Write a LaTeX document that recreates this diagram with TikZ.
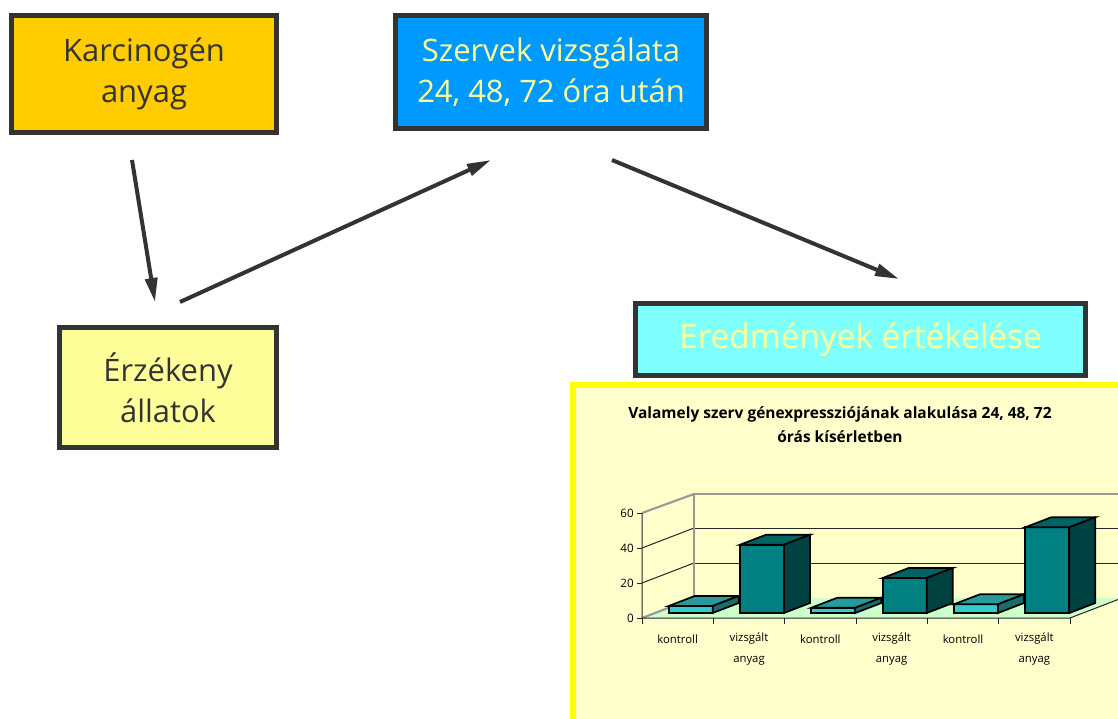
\documentclass[tikz,border=0pt]{standalone}
\usepackage{fontspec}
\setmainfont{Open Sans}
\usetikzlibrary{arrows.meta}
\definecolor{boxline}{HTML}{333333}
\definecolor{karcfill}{HTML}{FFCC00}
\definecolor{szervfill}{HTML}{0099FF}
\definecolor{erzfill}{HTML}{FFFF99}
\definecolor{eredfill}{HTML}{80FFFF}
\definecolor{lighttext}{HTML}{FFFF99}
\definecolor{chartbg}{HTML}{FFFFCC}
\definecolor{chartframe}{HTML}{FFFF00}
\definecolor{floorfill}{HTML}{CCFFCC}
\definecolor{wallgray}{HTML}{999999}
\definecolor{kf}{HTML}{33CCCC}
\definecolor{kt}{HTML}{279B9B}
\definecolor{ks}{HTML}{1B6B6B}
\definecolor{vf}{HTML}{008080}
\definecolor{vt}{HTML}{006363}
\definecolor{vs}{HTML}{004242}
\tikzset{
  box/.style={draw=boxline, line width=3.75pt, align=center, inner sep=0pt,
    font=\fontsize{23.2}{31}\selectfont},
  arr/.style={draw=boxline, line width=3pt, -{Triangle[length=18pt,width=9pt]}},
  barline/.style={draw=black, line width=1.3pt, line join=miter},
  grid/.style={draw=black!85, line width=0.75pt},
  wall/.style={draw=wallgray, line width=1.6pt},
  axislbl/.style={font=\fontsize{8.7}{10}\selectfont, inner sep=0pt},
  catlbl/.style={font=\fontsize{8.5}{10}\selectfont, inner sep=0pt},
}
\begin{document}
\begin{tikzpicture}[x=0.75pt,y=-0.75pt]
\useasboundingbox (0,0) rectangle (1118,718);
\begin{scope}
\clip (0,0) rectangle (1118,718);
\fill[white] (0,0) rectangle (1118,718);

% boxes
\node[box, fill=karcfill, text=boxline, minimum width=265*0.75pt, minimum height=117*0.75pt] (karc) at (144,74) {Karcinogén\\anyag};
\node[box, fill=szervfill, text=lighttext, minimum width=311*0.75pt, minimum height=113*0.75pt] (szerv) at (551,72) {Szervek vizsgálata\\24, 48, 72 óra után};
\node[box, fill=erzfill, text=boxline, minimum width=217*0.75pt, minimum height=120*0.75pt] (erz) at (168,387.5) {Érzékeny\\állatok};
\node[box, fill=eredfill, text=lighttext, minimum width=450*0.75pt, minimum height=72*0.75pt, font=\fontsize{25}{31}\selectfont] (ered) at (860.5,339.5) {Eredmények értékelése};

% arrows
\coordinate (a1s) at (132,160); \coordinate (a1e) at (155,302);
\coordinate (a2s) at (180,302); \coordinate (a2e) at (491,160);
\coordinate (a3s) at (612,160); \coordinate (a3e) at (899,279);
\draw[arr] (a1s) -- (a1e);
\draw[arr] (a2s) -- (a2e);
\draw[arr] (a3s) -- (a3e);

% chart frame
\draw[draw=chartframe, fill=chartbg, line width=4.8pt] (573,385) rectangle (1140,740);

% title
\node[font=\bfseries\fontsize{11.6}{18}\selectfont, align=center, inner sep=0pt] (title) at (840,425)
  {Valamely szerv génexpressziójának alakulása 24, 48, 72\\órás kísérletben};

% floor
\fill[floorfill] (642,618) -- (1070,618) -- (1122,598) -- (694,598) -- cycle;
% back wall grid
\draw[grid] (694,563) -- (1130,563);
\draw[grid] (694,528) -- (1130,528);
\draw[grid] (642,583) -- (694,563);
\draw[grid] (642,548) -- (694,528);
\draw[wall] (694,598) -- (694,494) -- (1130,494);
\draw[wall] (642,513) -- (694,494);
\draw[wall] (642,618) -- (694,598);
% axes
\draw[grid] (642,513) -- (642,618) -- (1070,618) -- (1122,598);
\foreach \k in {0,20,40,60} {
  \pgfmathsetmacro\yy{618-1.75*\k}
  \draw[grid] (637,\yy) -- (642,\yy);
  \node[axislbl, anchor=east] at (634,\yy) {\k};
}
\foreach \j in {0,...,6} {
  \pgfmathsetmacro\xx{642+\j*71.333}
  \draw[grid] (\xx,618) -- (\xx,624);
}

% bars
\foreach \i/\v/\fr/\tp/\sd in {0/4/kf/kt/ks, 1/39/vf/vt/vs, 2/3/kf/kt/ks, 3/20/vf/vt/vs, 4/5/kf/kt/ks, 5/49/vf/vt/vs} {
  \pgfmathsetmacro\xa{642+\i*71.333+13.67+13}
  \pgfmathsetmacro\xb{\xa+44}
  \pgfmathsetmacro\yt{613-1.75*\v}
  \pgfmathsetmacro\hh{1.75*\v}
  \draw[barline, fill=\fr] (\xa,613) rectangle (\xb,\yt);
  \draw[barline, fill=\tp] (\xa,\yt) -- (\xb,\yt) -- ++(26,-10) -- ++(-44,0) -- cycle;
  \draw[barline, fill=\sd] (\xb,613) -- (\xb,\yt) -- ++(26,-10) -- ++(0,\hh) -- cycle;
}

% category labels
\foreach \j/\t in {0/kontroll, 2/kontroll, 4/kontroll} {
  \pgfmathsetmacro\xx{642+(\j+0.5)*71.333}
  \node[catlbl] at (\xx,639) {\t};
}
\foreach \j in {1,3,5} {
  \pgfmathsetmacro\xx{642+(\j+0.5)*71.333}
  \node[catlbl] at (\xx,639) {vizsgált};
  \node[catlbl] at (\xx,661) {anyag};
}
\end{scope}
\end{tikzpicture}
\end{document}
